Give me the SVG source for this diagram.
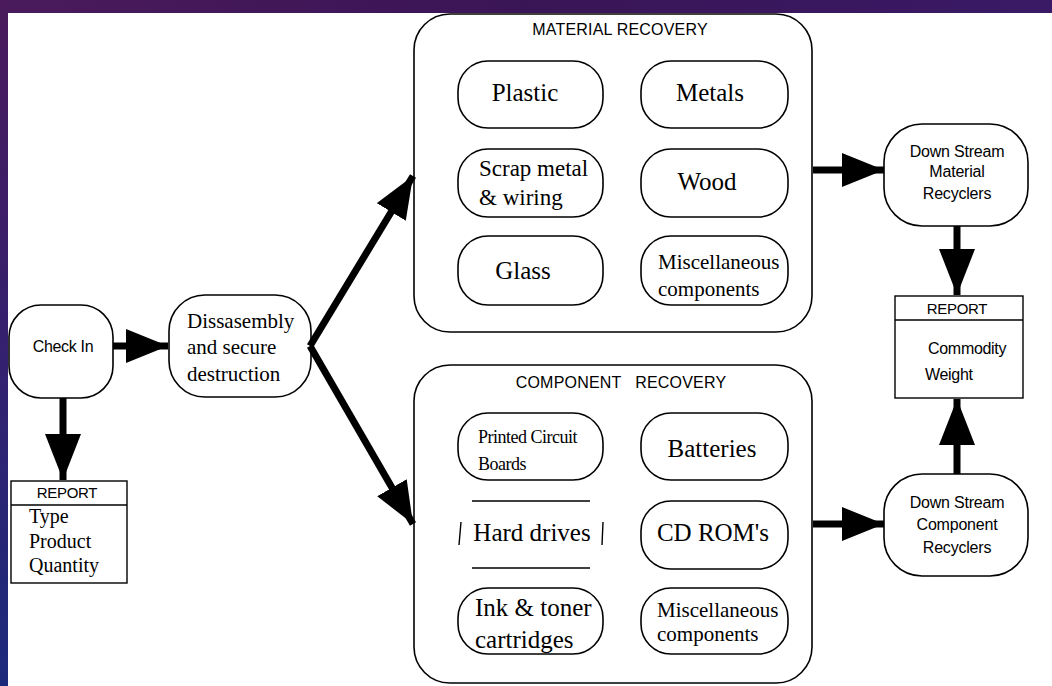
<svg xmlns="http://www.w3.org/2000/svg" width="1052" height="686" viewBox="0 0 1052 686">
<defs>
<linearGradient id="bgL" x1="0" y1="0" x2="0" y2="1">
<stop offset="0" stop-color="#4a1a5c"/>
<stop offset="0.5" stop-color="#34206e"/>
<stop offset="1" stop-color="#1c2a7c"/>
</linearGradient>
<linearGradient id="bgT" x1="0" y1="0" x2="1" y2="0">
<stop offset="0" stop-color="#4a1a5c"/>
<stop offset="0.5" stop-color="#3a1556"/>
<stop offset="1" stop-color="#3a1a66"/>
</linearGradient>
<marker id="ah" viewBox="0 0 42 34" markerWidth="42" markerHeight="34" refX="42" refY="17" orient="auto" markerUnits="userSpaceOnUse">
<path d="M0,0 L42,17 L0,34 Z" fill="#000"/>
</marker>
<marker id="ahL" viewBox="0 0 46 36" markerWidth="46" markerHeight="36" refX="46" refY="18" orient="auto" markerUnits="userSpaceOnUse">
<path d="M0,0 L46,18 L0,36 Z" fill="#000"/>
</marker>
</defs>
<style>
.big{fill:#fff;stroke:#000;stroke-width:1.6}
.nd{fill:#fff;stroke:#000;stroke-width:1.6}
.box{fill:#fff;stroke:#000;stroke-width:1.4}
.sans{font-family:"Liberation Sans",Arial,sans-serif;fill:#000}
.serif{font-family:"Liberation Serif","Times New Roman",serif;fill:#000}
.c{text-anchor:middle}
.conn{stroke:#000;stroke-width:7;fill:none}
</style>
<rect x="0" y="0" width="1052" height="686" fill="url(#bgL)"/>
<rect x="0" y="0" width="1052" height="13" fill="url(#bgT)"/>
<rect x="8" y="13" width="1044" height="673" fill="#fff"/>

<g id="material-recovery">
<rect class="big" x="414" y="14" width="398" height="318" rx="36"/>
<text class="sans c" x="620" y="35" font-size="16" letter-spacing="0.2">MATERIAL RECOVERY</text>
</g>
<g id="plastic"><rect class="nd" x="458" y="61" width="145" height="67" rx="30"/><text class="serif c" x="525" y="101" font-size="25">Plastic</text></g>
<g id="metals"><rect class="nd" x="641" y="61" width="147" height="67" rx="30"/><text class="serif c" x="710" y="101" font-size="25">Metals</text></g>
<g id="scrap"><rect class="nd" x="458" y="149" width="145" height="68" rx="30"/><text class="serif" x="479" y="176" font-size="23">Scrap metal</text><text class="serif" x="479" y="205" font-size="23">&amp; wiring</text></g>
<g id="wood"><rect class="nd" x="641" y="149" width="147" height="68" rx="30"/><text class="serif c" x="707" y="190" font-size="25">Wood</text></g>
<g id="glass"><rect class="nd" x="458" y="236" width="145" height="69" rx="30"/><text class="serif c" x="523" y="279" font-size="25">Glass</text></g>
<g id="misc-mat"><rect class="nd" x="641" y="236" width="147" height="69" rx="30"/><text class="serif" x="658" y="269" font-size="21">Miscellaneous</text><text class="serif" x="658" y="296" font-size="21">components</text></g>

<g id="component-recovery">
<rect class="big" x="414" y="365" width="398" height="318" rx="36"/>
<text class="sans c" x="621" y="388" font-size="16" letter-spacing="0.2" style="white-space:pre">COMPONENT   RECOVERY</text>
</g>
<g id="pcb"><rect class="nd" x="458" y="413" width="145" height="67" rx="30"/><text class="serif" x="478" y="443" font-size="18" letter-spacing="-0.5">Printed Circuit</text><text class="serif" x="478" y="470" font-size="18" letter-spacing="-0.5">Boards</text></g>
<g id="batteries"><rect class="nd" x="641" y="413" width="147" height="67" rx="30"/><text class="serif c" x="712" y="457" font-size="25">Batteries</text></g>
<g id="hard-drives">
<path d="M472,501 L590,501 M472,568 L590,568 M461,522 L459,545 M603,522 L602,545" fill="none" stroke="#000" stroke-width="1.4"/>
<text class="serif c" x="532" y="541" font-size="25">Hard drives</text>
</g>
<g id="cdrom"><rect class="nd" x="641" y="501" width="147" height="68" rx="30"/><text class="serif c" x="713" y="541" font-size="25">CD ROM's</text></g>
<g id="ink"><rect class="nd" x="458" y="588" width="145" height="66" rx="30"/><text class="serif" x="475" y="616" font-size="25">Ink &amp; toner</text><text class="serif" x="475" y="648" font-size="25">cartridges</text></g>
<g id="misc-comp"><rect class="nd" x="641" y="588" width="147" height="66" rx="30"/><text class="serif" x="657" y="617" font-size="21">Miscellaneous</text><text class="serif" x="657" y="641" font-size="21">components</text></g>

<g id="check-in"><rect class="nd" x="9" y="305" width="104" height="93" rx="32"/><text class="sans c" x="63" y="352" font-size="16" letter-spacing="-0.3">Check In</text></g>
<g id="disassembly"><rect class="nd" x="169" y="295" width="142" height="102" rx="36"/><text class="serif" x="187" y="328" font-size="21">Dissasembly</text><text class="serif" x="187" y="354" font-size="21">and secure</text><text class="serif" x="187" y="381" font-size="21">destruction</text></g>
<g id="report-left">
<rect class="box" x="11" y="481" width="116" height="102"/>
<line x1="11" y1="505" x2="127" y2="505" stroke="#000" stroke-width="1.4"/>
<text class="sans c" x="67" y="498" font-size="15" letter-spacing="-0.3">REPORT</text>
<text class="serif" x="29" y="523" font-size="20">Type</text>
<text class="serif" x="29" y="548" font-size="20">Product</text>
<text class="serif" x="29" y="572" font-size="20">Quantity</text>
</g>

<g id="ds-material"><rect class="nd" x="884" y="124" width="144" height="102" rx="38"/><text class="sans c" x="957" y="157" font-size="16" letter-spacing="-0.2">Down Stream</text><text class="sans c" x="957" y="177" font-size="16" letter-spacing="-0.2">Material</text><text class="sans c" x="957" y="199" font-size="16" letter-spacing="-0.2">Recyclers</text></g>
<g id="report-right">
<rect class="box" x="895" y="296" width="128" height="102"/>
<line x1="895" y1="320" x2="1023" y2="320" stroke="#000" stroke-width="1.4"/>
<text class="sans c" x="957" y="314" font-size="15" letter-spacing="-0.3">REPORT</text>
<text class="sans" x="928" y="354" font-size="16" letter-spacing="-0.3">Commodity</text>
<text class="sans" x="925" y="380" font-size="16" letter-spacing="-0.3">Weight</text>
</g>
<g id="ds-component"><rect class="nd" x="884" y="474" width="144" height="102" rx="38"/><text class="sans c" x="957" y="508" font-size="16" letter-spacing="-0.2">Down Stream</text><text class="sans c" x="957" y="530" font-size="16" letter-spacing="-0.2">Component</text><text class="sans c" x="957" y="553" font-size="16" letter-spacing="-0.2">Recyclers</text></g>

<g id="connectors">
<line class="conn" x1="113" y1="346" x2="168" y2="346" marker-end="url(#ah)"/>
<line class="conn" x1="63" y1="398" x2="63" y2="480" marker-end="url(#ahL)"/>
<line class="conn" x1="310" y1="346" x2="413" y2="176" marker-end="url(#ah)"/>
<line class="conn" x1="310" y1="346" x2="413" y2="524" marker-end="url(#ah)"/>
<line class="conn" x1="813" y1="170" x2="884" y2="170" marker-end="url(#ah)"/>
<line class="conn" x1="813" y1="524" x2="884" y2="524" marker-end="url(#ah)"/>
<line class="conn" x1="957" y1="226" x2="957" y2="295" marker-end="url(#ahL)"/>
<line class="conn" x1="957" y1="474" x2="957" y2="399" marker-end="url(#ahL)"/>
</g>
</svg>
